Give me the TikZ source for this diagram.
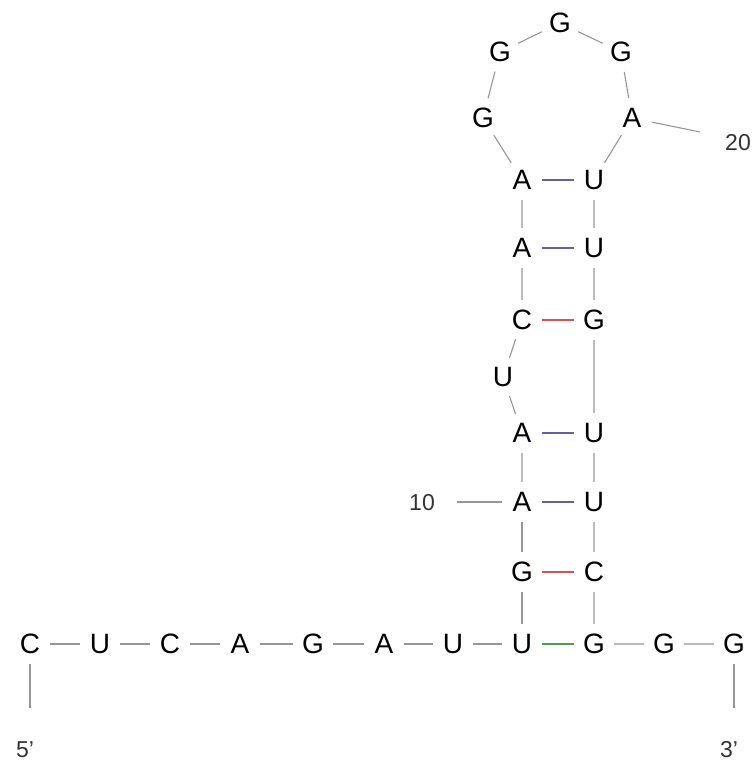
\documentclass[tikz,border=0pt]{standalone}
\usepackage{fontspec}
\setmainfont{Liberation Sans}
\definecolor{backbone}{RGB}{150,150,150}
\definecolor{pairAU}{RGB}{95,95,170}
\definecolor{pairGC}{RGB}{225,80,80}
\definecolor{pairGU}{RGB}{80,155,80}
\begin{document}
\begin{tikzpicture}[x=1pt,y=-1pt,
	base/.style={circle,minimum size=40pt,inner sep=0pt,font=\fontsize{28}{28}\selectfont},
	num/.style={text=black!80,font=\fontsize{23}{23}\selectfont},
	bb/.style={draw=backbone,line width=1.1pt},
	au/.style={draw=pairAU,line width=1.3pt},
	gc/.style={draw=pairGC,line width=1.3pt},
	gu/.style={draw=pairGU,line width=1.3pt}]
	
	\useasboundingbox (0,0) rectangle (753,767);
	
	% 5' tail
	\node[base] (n1) at (30,644) {C};
	\node[base] (n2) at (100,644) {U};
	\node[base] (n3) at (170,644) {C};
	\node[base] (n4) at (240,644) {A};
	\node[base] (n5) at (313,644) {G};
	\node[base] (n6) at (384,644) {A};
	\node[base] (n7) at (453,644) {U};
	\node[base] (n8) at (522,644) {U};
	
	%% Left strand of the stem
	\node[base] (n9) at (522,572) {G};
	\node[base] (n10) at (522,502) {A};
	\node[base] (n11) at (522,433) {A};
	\node[base] (n12) at (503,377) {U};
	\node[base] (n13) at (522,320) {C};
	\node[base] (n14) at (522,248) {A};
	\node[base] (n15) at (522,180) {A};
	
	%% Loop
	\node[base] (n16) at (483,118) {G};
	\node[base] (n17) at (500,52) {G};
	\node[base] (n18) at (560,23) {G};
	\node[base] (n19) at (621,52) {G};
	\node[base] (n20) at (632,118) {A};
	
	%% Right strand of the stem
	\node[base] (n21) at (594,180) {U};
	\node[base] (n22) at (594,248) {U};
	\node[base] (n23) at (594,320) {G};
	\node[base] (n24) at (594,433) {U};
	\node[base] (n25) at (594,502) {U};
	\node[base] (n26) at (594,572) {C};
	
	% 3' tail
	\node[base] (n27) at (594,644) {G};
	\node[base] (n28) at (664,644) {G};
	\node[base] (n29) at (734,644) {G};
	
	% Backbone
	\draw[bb] (n1) -- (n2) -- (n3) -- (n4) -- (n5) -- (n6) -- (n7) -- (n8) -- (n9) -- (n10);
	\draw[bb] (n10) -- (n11) -- (n12) -- (n13) -- (n14) -- (n15) -- (n16) -- (n17) -- (n18) -- (n19) -- (n20);
	\draw[bb] (n20) -- (n21) -- (n22) -- (n23) -- (n24) -- (n25) -- (n26) -- (n27) -- (n28) -- (n29);
	
	% Base pairs
	\draw[gu] (n8) -- (n27);
	\draw[gc] (n9) -- (n26);
	\draw[au] (n10) -- (n25);
	\draw[au] (n11) -- (n24);
	\draw[gc] (n13) -- (n23);
	\draw[au] (n14) -- (n22);
	\draw[au] (n15) -- (n21);
	
	% Ends and numbers
	\coordinate (e5) at (30,708);
	\coordinate (e3) at (734,708);
	\node[num] (l5) at (25,750) {5'};
	\node[num] (l3) at (729,750) {3'};
	\draw[bb] (n1) -- (e5);
	\draw[bb] (n29) -- (e3);
	
	\coordinate (t10) at (457,502);
	\node[num] (l10) at (422,503) {10};
	\draw[bb] (t10) -- (n10);
	
	\coordinate (t20) at (700,132);
	\node[num] (l20) at (738,143) {20};
	\draw[bb] (n20) -- (t20);
	
\end{tikzpicture}
\end{document}
